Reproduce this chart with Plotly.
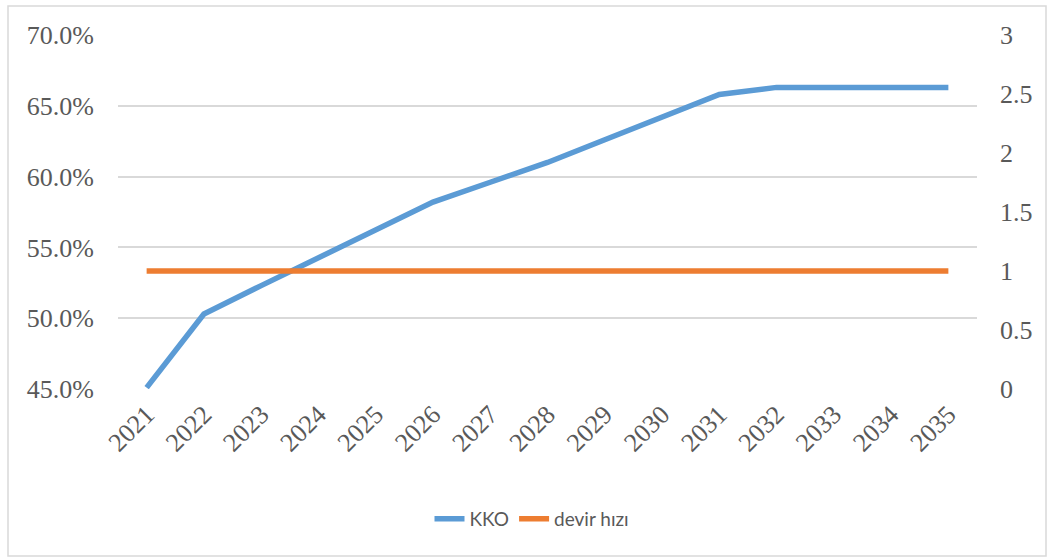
import plotly.graph_objects as go

years = [str(y) for y in range(2021, 2036)]
kko = [0.451, 0.503, 0.523, 0.543, 0.562, 0.582, 0.596, 0.610, 0.626, 0.642, 0.658, 0.663, 0.663, 0.663, 0.663]
devir_hizi = [1] * 15

left_ticks = [0.45, 0.50, 0.55, 0.60, 0.65, 0.70]
right_ticks = [0, 0.5, 1, 1.5, 2, 2.5, 3]
right_labels = ["0", "0.5", "1", "1.5", "2", "2.5", "3"]

BLUE = "#5B9BD5"
ORANGE = "#ED7D31"
GRID = "#D9D9D9"
TXT = "#595959"
serif = dict(family="Liberation Serif", size=26, color=TXT)

fig = go.Figure()
fig.add_trace(go.Scatter(x=years, y=kko, name="KKO", mode="lines",
                         line=dict(color=BLUE, width=5.5), yaxis="y"))
fig.add_trace(go.Scatter(x=years, y=devir_hizi, name="devir hızı", mode="lines",
                         line=dict(color=ORANGE, width=5.5), yaxis="y2"))

W, H = 1049, 558
L, R, T, B = 118, 72, 35, 169
pw, ph = W - L - R, H - T - B

def px_x(p):
    return (p - L) / pw

def px_y(p):
    return (H - B - p) / ph

fig.update_layout(
    width=W, height=H,
    margin=dict(l=L, r=R, t=T, b=B),
    paper_bgcolor="white", plot_bgcolor="white",
    showlegend=True,
    legend=dict(orientation="h", x=px_x(532), xanchor="center", y=px_y(519), yanchor="middle",
                font=dict(family="Lato", size=19, color=TXT),
                tracegroupgap=0, bgcolor="rgba(0,0,0,0)"),
    xaxis=dict(type="category", range=[-0.5, 14.5], showgrid=False, zeroline=False,
               showline=False, ticks="", tickangle=-45, tickfont=serif, ticklabelstandoff=4),
    yaxis=dict(range=[0.45, 0.70], tickvals=left_ticks, tickformat=".1%",
               showgrid=True, gridcolor=GRID, gridwidth=1.5, zeroline=False,
               showline=False, ticks="", tickfont=serif, ticklabelstandoff=23),
    yaxis2=dict(range=[0, 3], tickvals=right_ticks, ticktext=right_labels,
                overlaying="y", side="right", showgrid=False, zeroline=False,
                showline=False, ticks="", tickfont=serif, ticklabelstandoff=22),
    shapes=[dict(type="rect", xref="paper", yref="paper",
                 x0=px_x(8), x1=px_x(1046), y0=px_y(556), y1=px_y(6),
                 line=dict(color=GRID, width=1.5), fillcolor="rgba(0,0,0,0)", layer="below")],
)

fig.write_html("out.html")
